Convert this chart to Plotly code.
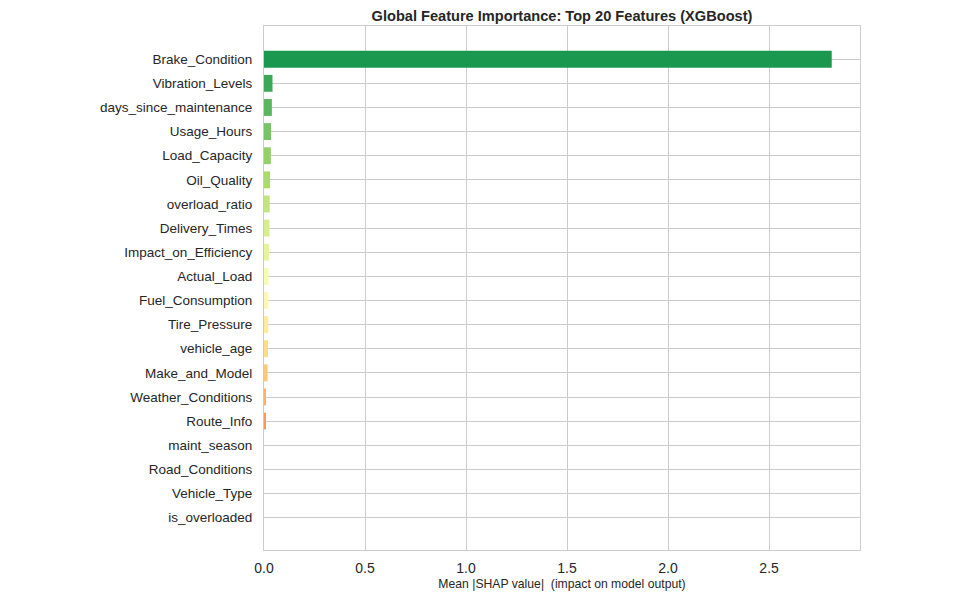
import plotly.graph_objects as go
from plotly.colors import sample_colorscale

# ── Data (top to bottom) ──────────────────────────────────────
features = [
    "Brake_Condition", "Vibration_Levels", "days_since_maintenance", "Usage_Hours",
    "Load_Capacity", "Oil_Quality", "overload_ratio", "Delivery_Times",
    "Impact_on_Efficiency", "Actual_Load", "Fuel_Consumption", "Tire_Pressure",
    "vehicle_age", "Make_and_Model", "Weather_Conditions", "Route_Info",
    "maint_season", "Road_Conditions", "Vehicle_Type", "is_overloaded",
]
mean_shap = [
    2.81, 0.042, 0.039, 0.035,
    0.034, 0.030, 0.028, 0.027,
    0.025, 0.023, 0.022, 0.021,
    0.020, 0.018, 0.009, 0.008,
    0.0, 0.0, 0.0, 0.0,
]
x_ticks = [0.0, 0.5, 1.0, 1.5, 2.0, 2.5]

# green at the top fading through yellow to red at the bottom
n = len(features)
bar_colors = sample_colorscale("RdYlGn", [0.9 - 0.8 * i / (n - 1) for i in range(n)])

FONT = "Liberation Sans, Arial, sans-serif"
GRID = "#cccccc"
TEXT = "#262626"

fig = go.Figure(go.Bar(
    x=mean_shap,
    y=features,
    orientation="h",
    width=0.7,
    marker=dict(color=bar_colors, line=dict(width=0)),
    hovertemplate="<b>%{y}</b><br>Mean |SHAP|: %{x:.4f}<extra></extra>",
))

fig.update_layout(
    width=960,
    height=600,
    margin=dict(l=256, r=108, t=18, b=58),
    plot_bgcolor="white",
    paper_bgcolor="white",
    font=dict(family=FONT, color=TEXT, size=13.5),
    title=dict(
        text="<b>Global Feature Importance: Top 20 Features (XGBoost)</b>",
        x=(256 + 852) / 2 / 960, xanchor="center",
        y=1 - 8 / 600, yanchor="middle", yref="container",
        font=dict(size=14.6, color=TEXT),
    ),
    showlegend=False,
)

fig.update_xaxes(
    range=[0, 2.95],
    tickvals=x_ticks,
    ticktext=[f"{t:.1f}" for t in x_ticks],
    showgrid=True, gridcolor=GRID, gridwidth=1,
    zeroline=False,
    showline=True, linecolor=GRID, linewidth=1, mirror=True,
    ticks="outside", ticklen=5, tickcolor="rgba(0,0,0,0)",
    tickfont=dict(size=14),
    title=dict(text="Mean |SHAP value|\u00a0\u00a0(impact on model output)",
               font=dict(size=12.2), standoff=4),
)

fig.update_yaxes(
    categoryorder="array",
    categoryarray=features,
    autorange=False,
    range=[n - 1 + 1.34, -1.376],
    showgrid=True, gridcolor=GRID, gridwidth=1,
    zeroline=False,
    showline=True, linecolor=GRID, linewidth=1, mirror=True,
    ticks="outside", ticklen=8, tickcolor="rgba(0,0,0,0)",
    tickfont=dict(size=13.5),
)

fig.write_html("out.html")
